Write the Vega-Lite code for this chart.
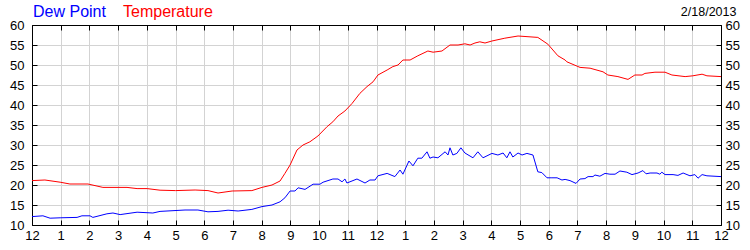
{
  "$schema": "https://vega.github.io/schema/vega-lite/v6.json",
  "width": 689,
  "height": 200,
  "autosize": {"type": "none"},
  "padding": {"left": 32, "top": 25, "right": 29, "bottom": 25},
  "background": "white",
  "title": {"text": "2/18/2013", "anchor": "end", "fontSize": 12.5, "font": "Liberation Sans", "fontWeight": "normal", "color": "#000000", "offset": -14, "dx": -3},
  "config": {
    "view": {"stroke": "black", "strokeWidth": 1},
    "axis": {"domainColor": "black", "tickColor": "black", "gridColor": "#d3d3d3", "gridOpacity": 1, "labelFont": "Liberation Sans", "labelFontSize": 13, "labelColor": "#000000", "tickSize": -5, "title": null, "labelFlush": false, "labelOverlap": false}
  },
  "data": {"values": [
    {"s": "Temperature", "h": 0, "v": 21.1},
    {"s": "Temperature", "h": 0.45, "v": 21.25},
    {"s": "Temperature", "h": 0.98, "v": 20.7},
    {"s": "Temperature", "h": 1.32, "v": 20.25},
    {"s": "Temperature", "h": 1.95, "v": 20.25},
    {"s": "Temperature", "h": 2.47, "v": 19.4},
    {"s": "Temperature", "h": 3.31, "v": 19.4},
    {"s": "Temperature", "h": 3.66, "v": 19.1},
    {"s": "Temperature", "h": 4.01, "v": 19.1},
    {"s": "Temperature", "h": 4.46, "v": 18.7},
    {"s": "Temperature", "h": 5.0, "v": 18.6},
    {"s": "Temperature", "h": 5.68, "v": 18.75},
    {"s": "Temperature", "h": 6.13, "v": 18.6},
    {"s": "Temperature", "h": 6.48, "v": 18.0},
    {"s": "Temperature", "h": 6.97, "v": 18.5},
    {"s": "Temperature", "h": 7.66, "v": 18.6},
    {"s": "Temperature", "h": 8.01, "v": 19.4},
    {"s": "Temperature", "h": 8.36, "v": 20.0},
    {"s": "Temperature", "h": 8.64, "v": 21.0},
    {"s": "Temperature", "h": 8.81, "v": 22.9},
    {"s": "Temperature", "h": 8.99, "v": 25.0},
    {"s": "Temperature", "h": 9.23, "v": 28.75},
    {"s": "Temperature", "h": 9.44, "v": 30.0},
    {"s": "Temperature", "h": 9.68, "v": 30.8},
    {"s": "Temperature", "h": 9.96, "v": 32.25},
    {"s": "Temperature", "h": 10.28, "v": 34.6},
    {"s": "Temperature", "h": 10.48, "v": 35.8},
    {"s": "Temperature", "h": 10.66, "v": 37.25},
    {"s": "Temperature", "h": 10.9, "v": 38.5},
    {"s": "Temperature", "h": 11.15, "v": 40.4},
    {"s": "Temperature", "h": 11.42, "v": 42.9},
    {"s": "Temperature", "h": 11.67, "v": 44.6},
    {"s": "Temperature", "h": 11.88, "v": 45.8},
    {"s": "Temperature", "h": 12.05, "v": 47.5},
    {"s": "Temperature", "h": 12.37, "v": 48.75},
    {"s": "Temperature", "h": 12.57, "v": 49.6},
    {"s": "Temperature", "h": 12.75, "v": 50.0},
    {"s": "Temperature", "h": 12.92, "v": 51.25},
    {"s": "Temperature", "h": 13.17, "v": 51.25},
    {"s": "Temperature", "h": 13.44, "v": 52.3},
    {"s": "Temperature", "h": 13.79, "v": 53.5},
    {"s": "Temperature", "h": 13.97, "v": 53.2},
    {"s": "Temperature", "h": 14.28, "v": 53.5},
    {"s": "Temperature", "h": 14.56, "v": 55.0},
    {"s": "Temperature", "h": 14.84, "v": 55.0},
    {"s": "Temperature", "h": 15.08, "v": 55.3},
    {"s": "Temperature", "h": 15.26, "v": 55.0},
    {"s": "Temperature", "h": 15.43, "v": 55.5},
    {"s": "Temperature", "h": 15.6, "v": 55.8},
    {"s": "Temperature", "h": 15.78, "v": 55.5},
    {"s": "Temperature", "h": 16.02, "v": 56.0},
    {"s": "Temperature", "h": 16.47, "v": 56.7},
    {"s": "Temperature", "h": 16.93, "v": 57.25},
    {"s": "Temperature", "h": 17.62, "v": 56.9},
    {"s": "Temperature", "h": 17.97, "v": 55.2},
    {"s": "Temperature", "h": 18.32, "v": 52.3},
    {"s": "Temperature", "h": 18.57, "v": 51.25},
    {"s": "Temperature", "h": 18.63, "v": 50.8},
    {"s": "Temperature", "h": 19.09, "v": 49.4},
    {"s": "Temperature", "h": 19.44, "v": 49.2},
    {"s": "Temperature", "h": 19.89, "v": 48.3},
    {"s": "Temperature", "h": 20.06, "v": 47.5},
    {"s": "Temperature", "h": 20.41, "v": 47.1},
    {"s": "Temperature", "h": 20.76, "v": 46.4},
    {"s": "Temperature", "h": 21.0, "v": 47.5},
    {"s": "Temperature", "h": 21.25, "v": 47.5},
    {"s": "Temperature", "h": 21.35, "v": 47.9},
    {"s": "Temperature", "h": 21.7, "v": 48.2},
    {"s": "Temperature", "h": 22.05, "v": 48.2},
    {"s": "Temperature", "h": 22.29, "v": 47.5},
    {"s": "Temperature", "h": 22.75, "v": 47.1},
    {"s": "Temperature", "h": 23.02, "v": 47.3},
    {"s": "Temperature", "h": 23.34, "v": 47.7},
    {"s": "Temperature", "h": 23.51, "v": 47.3},
    {"s": "Temperature", "h": 24.0, "v": 47.1},
    {"s": "Dew Point", "h": 0, "v": 12.1},
    {"s": "Dew Point", "h": 0.38, "v": 12.3},
    {"s": "Dew Point", "h": 0.63, "v": 11.7},
    {"s": "Dew Point", "h": 0.98, "v": 11.8},
    {"s": "Dew Point", "h": 1.57, "v": 11.9},
    {"s": "Dew Point", "h": 1.74, "v": 12.3},
    {"s": "Dew Point", "h": 2.02, "v": 12.3},
    {"s": "Dew Point", "h": 2.12, "v": 11.9},
    {"s": "Dew Point", "h": 2.61, "v": 12.8},
    {"s": "Dew Point", "h": 2.82, "v": 13.0},
    {"s": "Dew Point", "h": 3.07, "v": 12.6},
    {"s": "Dew Point", "h": 3.66, "v": 13.2},
    {"s": "Dew Point", "h": 4.21, "v": 13.0},
    {"s": "Dew Point", "h": 4.46, "v": 13.4},
    {"s": "Dew Point", "h": 5.33, "v": 13.75},
    {"s": "Dew Point", "h": 5.78, "v": 13.75},
    {"s": "Dew Point", "h": 6.13, "v": 13.3},
    {"s": "Dew Point", "h": 6.48, "v": 13.4},
    {"s": "Dew Point", "h": 6.83, "v": 13.7},
    {"s": "Dew Point", "h": 7.18, "v": 13.5},
    {"s": "Dew Point", "h": 7.66, "v": 13.9},
    {"s": "Dew Point", "h": 8.01, "v": 14.6},
    {"s": "Dew Point", "h": 8.36, "v": 15.0},
    {"s": "Dew Point", "h": 8.64, "v": 15.8},
    {"s": "Dew Point", "h": 8.81, "v": 16.8},
    {"s": "Dew Point", "h": 8.99, "v": 18.5},
    {"s": "Dew Point", "h": 9.16, "v": 18.5},
    {"s": "Dew Point", "h": 9.27, "v": 19.3},
    {"s": "Dew Point", "h": 9.51, "v": 18.9},
    {"s": "Dew Point", "h": 9.79, "v": 20.2},
    {"s": "Dew Point", "h": 10.03, "v": 20.2},
    {"s": "Dew Point", "h": 10.14, "v": 20.7},
    {"s": "Dew Point", "h": 10.48, "v": 21.5},
    {"s": "Dew Point", "h": 10.66, "v": 21.5},
    {"s": "Dew Point", "h": 10.8, "v": 20.8},
    {"s": "Dew Point", "h": 10.9, "v": 21.5},
    {"s": "Dew Point", "h": 10.97, "v": 20.5},
    {"s": "Dew Point", "h": 11.32, "v": 21.5},
    {"s": "Dew Point", "h": 11.6, "v": 20.5},
    {"s": "Dew Point", "h": 11.77, "v": 21.25},
    {"s": "Dew Point", "h": 11.95, "v": 21.25},
    {"s": "Dew Point", "h": 12.05, "v": 22.3},
    {"s": "Dew Point", "h": 12.37, "v": 22.9},
    {"s": "Dew Point", "h": 12.64, "v": 22.1},
    {"s": "Dew Point", "h": 12.82, "v": 23.75},
    {"s": "Dew Point", "h": 12.92, "v": 22.7},
    {"s": "Dew Point", "h": 13.13, "v": 26.0},
    {"s": "Dew Point", "h": 13.27, "v": 24.8},
    {"s": "Dew Point", "h": 13.44, "v": 26.7},
    {"s": "Dew Point", "h": 13.58, "v": 26.7},
    {"s": "Dew Point", "h": 13.76, "v": 28.3},
    {"s": "Dew Point", "h": 13.86, "v": 26.7},
    {"s": "Dew Point", "h": 13.97, "v": 27.0},
    {"s": "Dew Point", "h": 14.14, "v": 26.8},
    {"s": "Dew Point", "h": 14.39, "v": 28.3},
    {"s": "Dew Point", "h": 14.49, "v": 27.5},
    {"s": "Dew Point", "h": 14.56, "v": 29.3},
    {"s": "Dew Point", "h": 14.66, "v": 27.5},
    {"s": "Dew Point", "h": 14.8, "v": 27.9},
    {"s": "Dew Point", "h": 14.94, "v": 29.3},
    {"s": "Dew Point", "h": 15.08, "v": 28.0},
    {"s": "Dew Point", "h": 15.36, "v": 26.8},
    {"s": "Dew Point", "h": 15.53, "v": 28.3},
    {"s": "Dew Point", "h": 15.71, "v": 26.8},
    {"s": "Dew Point", "h": 16.02, "v": 27.9},
    {"s": "Dew Point", "h": 16.23, "v": 27.5},
    {"s": "Dew Point", "h": 16.41, "v": 28.0},
    {"s": "Dew Point", "h": 16.54, "v": 26.8},
    {"s": "Dew Point", "h": 16.65, "v": 28.3},
    {"s": "Dew Point", "h": 16.75, "v": 27.0},
    {"s": "Dew Point", "h": 16.93, "v": 28.0},
    {"s": "Dew Point", "h": 17.07, "v": 27.5},
    {"s": "Dew Point", "h": 17.24, "v": 27.9},
    {"s": "Dew Point", "h": 17.45, "v": 27.5},
    {"s": "Dew Point", "h": 17.62, "v": 23.3},
    {"s": "Dew Point", "h": 17.76, "v": 23.1},
    {"s": "Dew Point", "h": 17.94, "v": 21.8},
    {"s": "Dew Point", "h": 18.11, "v": 21.8},
    {"s": "Dew Point", "h": 18.29, "v": 21.8},
    {"s": "Dew Point", "h": 18.46, "v": 21.25},
    {"s": "Dew Point", "h": 18.57, "v": 21.4},
    {"s": "Dew Point", "h": 18.74, "v": 21.1},
    {"s": "Dew Point", "h": 18.95, "v": 20.4},
    {"s": "Dew Point", "h": 19.09, "v": 21.5},
    {"s": "Dew Point", "h": 19.26, "v": 21.6},
    {"s": "Dew Point", "h": 19.37, "v": 22.1},
    {"s": "Dew Point", "h": 19.54, "v": 22.1},
    {"s": "Dew Point", "h": 19.61, "v": 22.5},
    {"s": "Dew Point", "h": 19.78, "v": 22.2},
    {"s": "Dew Point", "h": 19.96, "v": 22.9},
    {"s": "Dew Point", "h": 20.13, "v": 22.7},
    {"s": "Dew Point", "h": 20.31, "v": 22.7},
    {"s": "Dew Point", "h": 20.48, "v": 23.5},
    {"s": "Dew Point", "h": 20.72, "v": 23.2},
    {"s": "Dew Point", "h": 20.9, "v": 22.6},
    {"s": "Dew Point", "h": 21.11, "v": 23.0},
    {"s": "Dew Point", "h": 21.28, "v": 23.6},
    {"s": "Dew Point", "h": 21.39, "v": 22.8},
    {"s": "Dew Point", "h": 21.53, "v": 23.0},
    {"s": "Dew Point", "h": 21.77, "v": 23.0},
    {"s": "Dew Point", "h": 21.87, "v": 22.7},
    {"s": "Dew Point", "h": 21.94, "v": 23.2},
    {"s": "Dew Point", "h": 22.05, "v": 22.6},
    {"s": "Dew Point", "h": 22.33, "v": 22.6},
    {"s": "Dew Point", "h": 22.5, "v": 22.4},
    {"s": "Dew Point", "h": 22.68, "v": 23.0},
    {"s": "Dew Point", "h": 22.92, "v": 22.3},
    {"s": "Dew Point", "h": 23.09, "v": 22.6},
    {"s": "Dew Point", "h": 23.2, "v": 21.7},
    {"s": "Dew Point", "h": 23.34, "v": 22.6},
    {"s": "Dew Point", "h": 23.51, "v": 22.3},
    {"s": "Dew Point", "h": 24.0, "v": 22.1}
  ]},
  "layer": [
    {
      "mark": {"type": "line", "strokeWidth": 1, "clip": true},
      "encoding": {
        "x": {"field": "h", "type": "quantitative", "scale": {"domain": [0, 24], "nice": false, "zero": false},
              "axis": {"orient": "bottom", "values": [0,1,2,3,4,5,6,7,8,9,10,11,12,13,14,15,16,17,18,19,20,21,22,23,24], "labelExpr": "datum.value % 12 == 0 ? '12' : '' + (datum.value % 12)", "grid": true, "labelPadding": 9}},
        "y": {"field": "v", "type": "quantitative", "scale": {"domain": [10, 60], "nice": false, "zero": false},
              "axis": {"orient": "left", "values": [10,15,20,25,30,35,40,45,50,55,60], "grid": true, "labelPadding": 13}},
        "color": {"field": "s", "type": "nominal", "scale": {"domain": ["Dew Point", "Temperature"], "range": ["#0000ff", "#ff0000"]},
                  "legend": {"orient": "none", "legendX": -15, "legendY": -21, "direction": "horizontal", "title": null, "symbolSize": 0, "symbolStrokeWidth": 0, "labelOffset": 0, "labelFontSize": 16, "labelFont": "Liberation Sans", "columnPadding": 1, "padding": 0,
                             "encode": {"labels": {"update": {"fill": {"scale": "color", "field": "value"}}}}}}
      }
    },
    {
      "mark": {"type": "line", "opacity": 0},
      "encoding": {
        "x": {"field": "h", "type": "quantitative", "scale": {"domain": [0, 24], "nice": false, "zero": false},
              "axis": {"orient": "top", "values": [0,1,2,3,4,5,6,7,8,9,10,11,12,13,14,15,16,17,18,19,20,21,22,23,24], "labels": false, "grid": false}},
        "y": {"field": "v", "type": "quantitative", "scale": {"domain": [10, 60], "nice": false, "zero": false},
              "axis": {"orient": "right", "values": [10,15,20,25,30,35,40,45,50,55,60], "grid": false, "labelPadding": 9}},
        "detail": {"field": "s", "type": "nominal"}
      }
    }
  ],
  "resolve": {"scale": {"x": "independent", "y": "independent"}}
}
